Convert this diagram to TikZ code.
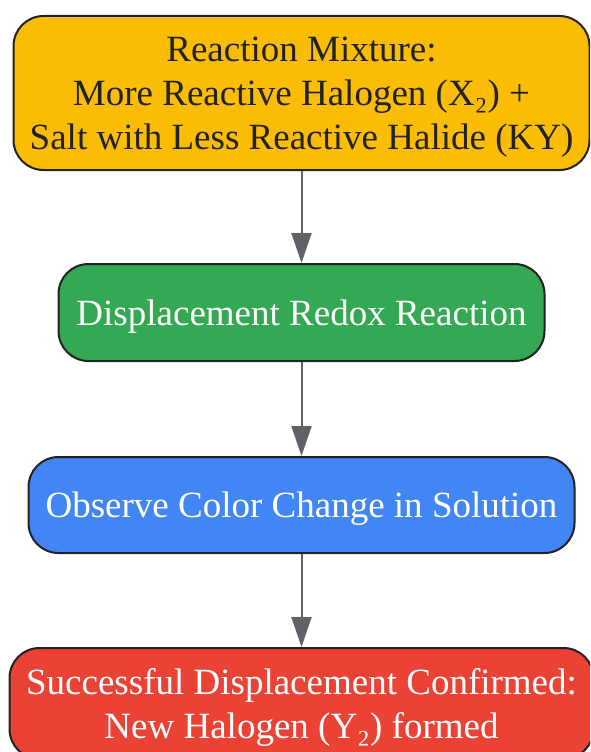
\documentclass[tikz,border=0pt]{standalone}
\usepackage{fontspec}
\setmainfont{Liberation Serif}
\usetikzlibrary{arrows.meta}
\definecolor{cyellow}{HTML}{FBBC04}
\definecolor{cgreen}{HTML}{34A853}
\definecolor{cblue}{HTML}{4285F4}
\definecolor{cred}{HTML}{EA4335}
\definecolor{cborder}{HTML}{222222}
\definecolor{carrow}{HTML}{5F6368}
\tikzset{
  flowbox/.style={draw=cborder, line width=2pt, rounded corners=30pt, inner sep=0pt,
    align=center, text depth=0pt, font=\fontsize{37}{44}\selectfont},
  flowarrow/.style={draw=carrow, line width=2pt, -{Triangle[length=30pt,width=20pt]}}
}
\begin{document}
\begin{tikzpicture}[x=1pt,y=1pt]
\useasboundingbox (0,0) rectangle (590,-752);
\begin{scope}
\clip (0,0) rectangle (590,-752);
\node[flowbox, fill=cyellow, text=cborder, minimum width=576pt, minimum height=154pt] (n1) at (301.5,-93)
  {Reaction Mixture:\\ More Reactive Halogen (X₂) +\\ Salt with Less Reactive Halide (KY)};
\node[flowbox, fill=cgreen, text=white, minimum width=486pt, minimum height=97pt] (n2) at (301.5,-312.5)
  {Displacement Redox Reaction};
\node[flowbox, fill=cblue, text=white, minimum width=546pt, minimum height=96pt] (n3) at (301.5,-505)
  {Observe Color Change in Solution};
\node[flowbox, fill=cred, text=white, minimum width=584pt, minimum height=111pt] (n4) at (301.5,-703.5)
  {Successful Displacement Confirmed:\\ New Halogen (Y₂) formed};
\draw[flowarrow] (n1.south) -- (n2.north);
\draw[flowarrow] (n2.south) -- (n3.north);
\draw[flowarrow] (n3.south) -- (n4.north);
\end{scope}
\end{tikzpicture}
\end{document}
